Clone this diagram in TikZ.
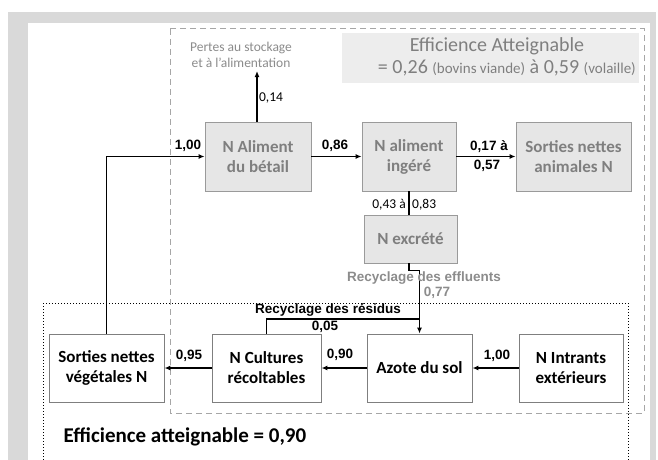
\documentclass[tikz,border=0pt]{standalone}
\usepackage{fontspec}
\setmainfont{Carlito}
\newfontfamily\arialf{Liberation Sans}
\usetikzlibrary{arrows.meta}
\definecolor{bggray}{HTML}{D9D9D9}
\definecolor{boxfill}{HTML}{E6E6E6}
\definecolor{boxline}{HTML}{9A9A9A}
\definecolor{txtgray}{HTML}{7F7F7F}
\definecolor{lblgray}{HTML}{8C8C8C}
\definecolor{dashgray}{HTML}{A6A6A6}
\definecolor{hdrfill}{HTML}{EDEDED}
\tikzset{
  topbox/.style={draw=boxline, fill=boxfill, line width=0.9pt, text=txtgray, align=center,
    font=\fontsize{17}{20}\selectfont\bfseries, inner sep=0pt},
  botbox/.style={draw=txtgray, fill=white, line width=0.9pt, text=black, align=center,
    font=\fontsize{17}{20}\selectfont\bfseries, inner sep=0pt},
  conn/.style={line width=1.4pt, draw=black},
  arr/.style={conn, -{Latex[length=6pt,width=5pt]}},
  blab/.style={font=\arialf\fontsize{13.5}{16}\selectfont\bfseries, inner sep=0pt},
  clab/.style={font=\fontsize{13.5}{16}\selectfont, inner sep=0pt},
}
\begin{document}
\begin{tikzpicture}[x=1pt,y=-1pt]
\useasboundingbox (0,0) rectangle (658,460);
\fill[white] (0,0) rectangle (658,460);
\fill[bggray] (8,12) rectangle (656,460);
\fill[white] (28,23) rectangle (650,460);
% header box
\fill[hdrfill] (342,33) rectangle (639,83);
\node[text=txtgray, font=\fontsize{20}{24}\selectfont, inner sep=0pt] (hdr1) at (497,46) {Efficience Atteignable};
\node[text=txtgray, font=\fontsize{20}{24}\selectfont, inner sep=0pt, anchor=east] (hdr2) at (636,68)
  {= 0,26 {\fontsize{15}{18}\selectfont(bovins viande)} à 0,59 {\fontsize{15}{18}\selectfont(volaille)}};
% frames
\draw[dashgray, line width=1pt, dash pattern=on 6pt off 4pt] (170,29) rectangle (644,413);
\draw[black, line width=1pt, dotted] (43,303) -- (628,303) (43,303) -- (43,465) (628,303) -- (628,465);
% nodes
\node[topbox, minimum width=106pt, minimum height=69pt] (alim) at (258,156.5) {N Aliment\\du bétail};
\node[topbox, minimum width=94pt, minimum height=69pt] (ing) at (409,156.5) {N aliment\\ingéré};
\node[topbox, minimum width=115pt, minimum height=69pt] (sortA) at (573.5,156.5) {Sorties nettes\\animales N};
\node[topbox, minimum width=93pt, minimum height=48pt] (excr) at (410.5,239) {N excrété};
\node[botbox, minimum width=115pt, minimum height=68pt] (sortV) at (106.5,368) {Sorties nettes\\végétales N};
\node[botbox, minimum width=109pt, minimum height=68pt] (cult) at (266.5,368) {N Cultures\\récoltables};
\node[botbox, minimum width=105pt, minimum height=68pt] (azote) at (419.5,368) {Azote du sol};
\node[botbox, minimum width=104pt, minimum height=68pt] (intr) at (571,368) {N Intrants\\extérieurs};
% text nodes
\node[text=lblgray, align=center, font=\fontsize{13.5}{16}\selectfont, inner sep=0pt] (pertes) at (241,55) {Pertes au stockage\\et à l’alimentation};
\coordinate (ptip) at (257,71);
\coordinate (rj) at (419.5,319);
% connectors
\draw[arr] (sortV.north) |- (alim.west);
\draw[arr] (alim.north -| ptip) -- (ptip);
\draw[arr] (alim.east) -- (ing.west);
\draw[arr] (ing.east) -- (sortA.west);
\draw[conn] (ing.south) -- (ing.south |- excr.north);
\draw[arr] (ing.south |- excr.south) -- ++(0,7) -| (azote.north);
\draw[conn] (cult.north) |- (rj);
\draw[arr] (azote.west) -- (cult.east);
\draw[arr] (cult.west) -- (sortV.east);
\draw[arr] (intr.west) -- (azote.east);
% labels
\node[blab] (l100a) at (188,146) {1,00};
\node[clab] (l014) at (271,98) {0,14};
\node[blab] (l086) at (335,146) {0,86};
\node[blab] (l017) at (489,147) {0,17 à};
\node[blab] (l057) at (487,166) {0,57};
\node[clab, anchor=east] (l043) at (406,205) {0,43 à};
\node[clab, anchor=west] (l083) at (412,205) {0,83};
\node[blab, text=lblgray] (reff) at (424,278) {Recyclage des effluents};
\node[blab, text=lblgray] (l077) at (437,293) {0,77};
\node[blab] (rres) at (328,310) {Recyclage des résidus};
\node[blab] (l005) at (325,327) {0,05};
\node[blab] (l090) at (340,355) {0,90};
\node[blab] (l095) at (189,356) {0,95};
\node[blab] (l100b) at (497,356) {1,00};
\node[font=\fontsize{21}{25}\selectfont\bfseries, inner sep=0pt] (eff) at (185,437) {Efficience atteignable = 0,90};
\end{tikzpicture}
\end{document}
